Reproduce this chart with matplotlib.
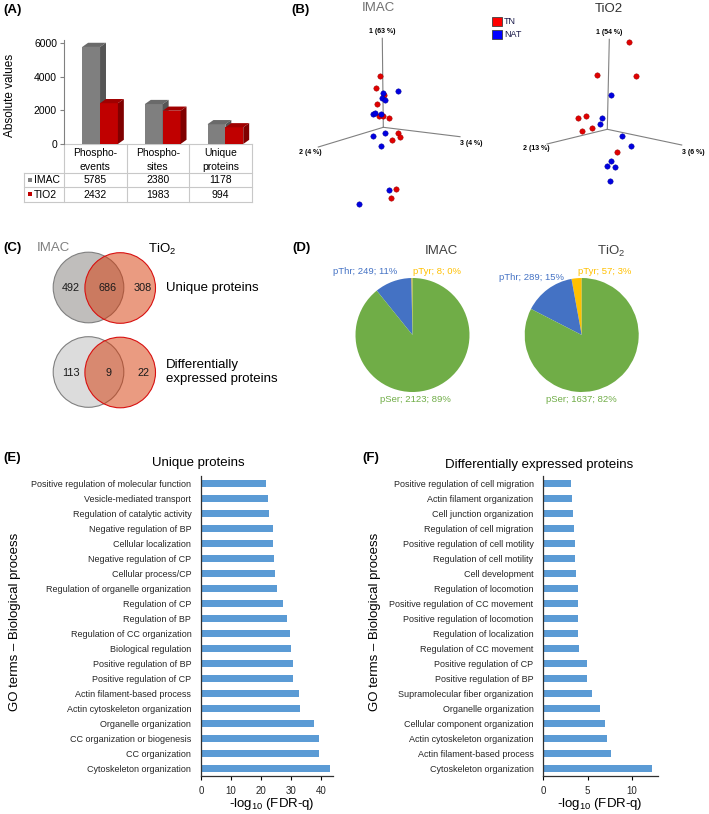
import numpy as np
import matplotlib
matplotlib.use("Agg")
import matplotlib.pyplot as plt
from matplotlib.patches import Polygon, Circle, Rectangle

plt.rcParams['font.family'] = ['Liberation Sans', 'DejaVu Sans']
plt.rcParams['mathtext.fontset'] = 'custom'
plt.rcParams['mathtext.rm'] = 'Liberation Sans'

# --- Data -----------------------------------------------------------------

# (A) counts per enrichment
count_categories = ["Phospho-\nevents", "Phospho-\nsites", "Unique\nproteins"]
imac_counts = [5785, 2380, 1178]
tio2_counts = [2432, 1983, 994]

# (B) PCA projections (screen coords relative to the axis origin)
imac_tn_x = [-3.3, -7.3, 1.0, -6.6, -4.3, 0.0, 6.0, 15.0, 17.0, 9.0, 13.0, 8.0]
imac_tn_y = [51.6, 39.6, 32.3, 23.0, 11.3, 11.6, 9.6, -6.0, -9.4, -13.0, -61.4, -70.4]
imac_nat_x = [14.4, -0.3, -1.0, 2.0, -10.6, -8.6, -2.6, -10.6, 1.4, -2.0, 5.4, -24.0]
imac_nat_y = [36.6, 34.0, 29.0, 27.3, 13.0, 14.0, 13.3, -8.4, -6.0, -18.7, -63.0, -76.4]
imac_pc_labels = ["1 (63 %)", "2 (4 %)", "3 (4 %)"]
imac_pc_ends = [(-1, 89), (-65, -19.7), (76.7, -9.4)]

tio2_tn_x = [21.7, -10.6, 29.0, -29.0, -21.6, -25.3, -15.3, 9.4]
tio2_tn_y = [87.0, 54.3, 53.0, 11.6, 13.6, -1.7, 1.3, -22.4]
tio2_nat_x = [4.0, -5.0, -7.3, 14.7, 23.7, 3.4, 0.0, 8.0, 2.4]
tio2_nat_y = [34.6, 11.6, 5.0, -6.7, -16.4, -32.0, -36.7, -37.7, -52.0]
tio2_pc_labels = ["1 (54 %)", "2 (13 %)", "3 (6 %)"]
tio2_pc_ends = [(2, 90), (-60.3, -14.7), (74.4, -15.7)]

# (C) Venn counts: only IMAC, shared, only TiO2
venn_unique = [492, 686, 308]
venn_diff = [113, 9, 22]

# (D) phospho-site residues
residues = ["pTyr", "pThr", "pSer"]
imac_sites = [8, 249, 2123]
imac_pct = [0, 11, 89]
tio2_sites = [57, 289, 1637]
tio2_pct = [3, 15, 82]

# (E) GO terms, unique proteins (top to bottom)
go_unique_terms = [
    "Positive regulation of molecular function", "Vesicle-mediated transport",
    "Regulation of catalytic activity", "Negative regulation of BP",
    "Cellular localization", "Negative regulation of CP", "Cellular process/CP",
    "Regulation of organelle organization", "Regulation of CP", "Regulation of BP",
    "Regulation of CC organization", "Biological regulation",
    "Positive regulation of BP", "Positive regulation of CP",
    "Actin filament-based process", "Actin cytoskeleton organization",
    "Organelle organization", "CC organization or biogenesis", "CC organization",
    "Cytoskeleton organization",
]
go_unique_vals = [21.6, 22.4, 22.7, 24.1, 24.1, 24.4, 24.8, 25.4, 27.3, 28.8,
                  29.7, 29.9, 30.6, 30.8, 32.6, 32.9, 37.7, 39.3, 39.3, 43.1]

# (F) GO terms, differentially expressed proteins (top to bottom)
go_de_terms = [
    "Positive regulation of cell migration", "Actin filament organization",
    "Cell junction organization", "Regulation of cell migration",
    "Positive regulation of cell motility", "Regulation of cell motility",
    "Cell development", "Regulation of locomotion",
    "Positive regulation of CC movement", "Positive regulation of locomotion",
    "Regulation of localization", "Regulation of CC movement",
    "Positive regulation of CP", "Positive regulation of BP",
    "Supramolecular fiber organization", "Organelle organization",
    "Cellular component organization", "Actin cytoskeleton organization",
    "Actin filament-based process", "Cytoskeleton organization",
]
go_de_vals = [3.1, 3.3, 3.4, 3.5, 3.6, 3.6, 3.7, 3.9, 3.95, 3.95,
              3.95, 4.05, 4.9, 4.9, 5.55, 6.45, 7.0, 7.2, 7.65, 12.3]

# --- Layout helpers -------------------------------------------------------

W, H = 709, 814
fig = plt.figure(figsize=(W / 100, H / 100), dpi=100)


def px_axes(x0, y0, x1, y1):
    return fig.add_axes([x0 / W, 1 - y1 / H, (x1 - x0) / W, (y1 - y0) / H])


ov = px_axes(0, 0, W, H)
ov.set_xlim(0, W)
ov.set_ylim(H, 0)
ov.axis("off")

TIO2_TXT = r"TiO$_\mathregular{2}$"
for lab, x, y in [("(A)", 3, 10), ("(B)", 291, 10), ("(C)", 3, 248),
                  ("(D)", 292, 248), ("(E)", 3, 458), ("(F)", 362, 458)]:
    ov.text(x, y, lab, fontsize=9.5, fontweight="bold", va="center")

# --- (A) pseudo-3D bars + table --------------------------------------------

axA = px_axes(64, 40, 252, 144)
axA.set_xlim(0, 3)
axA.set_ylim(0, 6200)
DX, DY, BW = 0.095, 250, 0.285
xs = np.arange(len(imac_counts))


def bar3d(ax, x, h, front, top, side):
    ax.bar(x, h, width=BW, align="edge", color=front, zorder=2)
    ax.add_patch(Polygon([(x, h), (x + DX, h + DY), (x + BW + DX, h + DY), (x + BW, h)],
                         fc=top, ec="none", zorder=2))
    ax.add_patch(Polygon([(x + BW, 0), (x + BW + DX, DY), (x + BW + DX, h + DY), (x + BW, h)],
                         fc=side, ec="none", zorder=2))


for i in xs:
    bar3d(axA, i + 0.29, imac_counts[i], "#7f7f7f", "#6a6a6a", "#555555")
    bar3d(axA, i + 0.29 + BW, tio2_counts[i], "#c00000", "#a00000", "#800000")

axA.set_yticks([0, 2000, 4000, 6000])
axA.set_xticks([])
axA.tick_params(axis="y", labelsize=7.5, length=3, width=0.8, color="#808080", pad=2)
for s in ["top", "right", "bottom"]:
    axA.spines[s].set_visible(False)
axA.spines["left"].set_color("#808080")
axA.patch.set_visible(False)
ov.text(10, 95, "Absolute values", fontsize=8.5, rotation=90, ha="center", va="center")

grid_c = "#c8c8c8"
col_w = 188 / 3
ov.plot([64, 252], [144, 144], color=grid_c, lw=0.8)
for y in [173.3, 187, 201.7]:
    ov.plot([24, 252], [y, y], color=grid_c, lw=0.8)
ov.plot([24, 24], [173.3, 201.7], color=grid_c, lw=0.8)
for k in range(4):
    ov.plot([64 + k * col_w] * 2, [144, 201.7], color=grid_c, lw=0.8)
for i, cat in enumerate(count_categories):
    cx = 64 + (i + 0.5) * col_w
    ov.text(cx, 160, cat, fontsize=7.5, ha="center", va="center", linespacing=1.4)
    ov.text(cx, 180.3, str(imac_counts[i]), fontsize=7.5, ha="center", va="center")
    ov.text(cx, 194.5, str(tio2_counts[i]), fontsize=7.5, ha="center", va="center")
ov.add_patch(Rectangle((28, 178), 4, 4, fc="#7f7f7f", ec="none"))
ov.add_patch(Rectangle((28, 192.3), 4, 4, fc="#c00000", ec="none"))
ov.text(34, 180.3, "IMAC", fontsize=7.5, va="center")
ov.text(34, 194.5, "TIO2", fontsize=7.5, va="center")

# --- (B) PCA ---------------------------------------------------------------


def pca_panel(x0, y0, x1, y1, ox, oy, tn_x, tn_y, nat_x, nat_y, labels, ends):
    ax = px_axes(x0, y0, x1, y1)
    ax.set_xlim(x0 - ox, x1 - ox)
    ax.set_ylim(oy - y1, oy - y0)
    ax.axis("off")
    for k, (lab, (ex, ey)) in enumerate(zip(labels, ends)):
        ax.plot([0, ex], [0, ey], color="#808080", lw=0.8, zorder=1)
        if k == 0:
            ax.text(ex, ey + 7, lab, fontsize=5, fontweight="bold", ha="center", va="center")
        elif k == 1:
            ax.text(ex + 3, ey - 5, lab, fontsize=5, fontweight="bold", ha="right", va="center")
        else:
            ax.text(ex, ey - 7, lab, fontsize=5, fontweight="bold", ha="left", va="center")
    ax.scatter(tn_x, tn_y, s=15, color="#e00000", edgecolors="#900000", linewidths=0.3, zorder=3)
    ax.scatter(nat_x, nat_y, s=15, color="#0000e0", edgecolors="#000090", linewidths=0.3, zorder=3)
    return ax


pca_panel(292, 20, 505, 215, 383.3, 127.3, imac_tn_x, imac_tn_y, imac_nat_x, imac_nat_y,
          imac_pc_labels, imac_pc_ends)
pca_panel(515, 20, 709, 215, 607.3, 129.3, tio2_tn_x, tio2_tn_y, tio2_nat_x, tio2_nat_y,
          tio2_pc_labels, tio2_pc_ends)
ov.text(378, 8, "IMAC", fontsize=9.5, color="#707070", ha="center", va="center")
ov.text(609, 8.5, "TiO2", fontsize=9.5, color="#303030", ha="center", va="center")
ov.add_patch(Rectangle((491.5, 17), 10, 9, fc="#ff0000", ec="#404040", lw=0.6))
ov.add_patch(Rectangle((491.5, 30), 10, 9, fc="#0000ff", ec="#404040", lw=0.6))
ov.text(504, 21.7, "TN", fontsize=6.5, color="#1a1a4a", va="center")
ov.text(504, 34.7, "NAT", fontsize=6.5, color="#1a1a4a", va="center")

# --- (C) Venn diagrams -----------------------------------------------------

ov.text(37, 248, "IMAC", fontsize=9.5, color="#808080", va="center")
ov.text(148, 249, TIO2_TXT, fontsize=9.5, va="center")


def venn(cy, counts, grey, title):
    ov.add_patch(Circle((88.5, cy), 35.3, fc=grey, ec="#808080", lw=0.8))
    ov.add_patch(Circle((120.2, cy + 0.5), 35.3, fc=(0.84, 0.22, 0.02, 0.5), ec="#d81010", lw=0.8))
    for x, n in zip([70.5, 108, 143], counts):
        ov.text(x, cy + 0.5, str(n), fontsize=7.8, ha="center", va="center", color="#1a1a1a")
    ov.text(166, cy, title, fontsize=9.5, va="center", linespacing=1.15)


venn(287.5, venn_unique, "#c0bebc", "Unique proteins")
venn(372, venn_diff, "#dcdcdc", "Differentially\nexpressed proteins")

# --- (D) pies ---------------------------------------------------------------

pie_colors = ["#ffc000", "#4472c4", "#70ad47"]


def pie_panel(cx, cy, r, sites, pct, title, pos):
    ax = px_axes(cx - r, cy - r, cx + r, cy + r)
    ax.pie(sites, colors=pie_colors, startangle=90, counterclock=True, radius=1,
           wedgeprops=dict(linewidth=0))
    ax.set_xlim(-1, 1)
    ax.set_ylim(-1, 1)
    ax.set_aspect("equal")
    ov.text(cx + 29, 251, title, fontsize=9.5, color="#404040", ha="center", va="center")
    for k, (name, n, p) in enumerate(zip(residues, sites, pct)):
        x, y, ha = pos[k]
        ov.text(x, y, f"{name}; {n}; {p}%", fontsize=6.8, color=pie_colors[k],
                ha=ha, va="center")


pie_panel(412.5, 335, 57, imac_sites, imac_pct, "IMAC",
          [(413, 272, "left"), (397, 272, "right"), (415.5, 399, "center")])
pie_panel(581.7, 335, 57, tio2_sites, tio2_pct, TIO2_TXT,
          [(578, 271.5, "left"), (564, 277, "right"), (581.5, 399, "center")])

# --- (E)/(F) GO bar charts ---------------------------------------------------


def go_panel(x0, x1, terms, vals, xmax, ticks):
    ax = px_axes(x0, 476, x1, 776)
    n = len(terms)
    ypos = np.arange(n)[::-1]
    ax.barh(ypos, vals, height=0.52, color="#5b9bd5", zorder=2)
    ax.set_yticks(ypos)
    ax.set_yticklabels(terms, fontsize=6.5, color="#262626")
    ax.set_ylim(-0.5, n - 0.5)
    ax.set_xlim(0, xmax)
    ax.set_xticks(ticks)
    ax.tick_params(axis="y", length=0, pad=7)
    ax.tick_params(axis="x", labelsize=7, length=3, width=0.8, pad=4, labelcolor="#262626")
    for s in ["top", "right"]:
        ax.spines[s].set_visible(False)
    for s in ["left", "bottom"]:
        ax.spines[s].set_color("#303030")
        ax.spines[s].set_linewidth(0.9)
    ax.patch.set_visible(False)
    return ax


go_panel(201, 333, go_unique_terms, go_unique_vals, 44, [0, 10, 20, 30, 40])
go_panel(543.3, 658.3, go_de_terms, go_de_vals, 13, [0, 5, 10])

xlab = r"-log$_\mathregular{10}$ (FDR-q)"
ov.text(198, 463, "Unique proteins", fontsize=9.5, ha="center", va="center")
ov.text(539.5, 465, "Differentially expressed proteins", fontsize=9.5, ha="center", va="center")
ov.text(272, 804, xlab, fontsize=9.5, ha="center", va="center")
ov.text(600, 804, xlab, fontsize=9.5, ha="center", va="center")
ov.text(15, 622, "GO terms \u2013 Biological process", fontsize=9.5, rotation=90,
        ha="center", va="center")
ov.text(375, 622, "GO terms \u2013 Biological process", fontsize=9.5, rotation=90,
        ha="center", va="center")

fig.savefig("out.png", dpi=100, facecolor="white")
